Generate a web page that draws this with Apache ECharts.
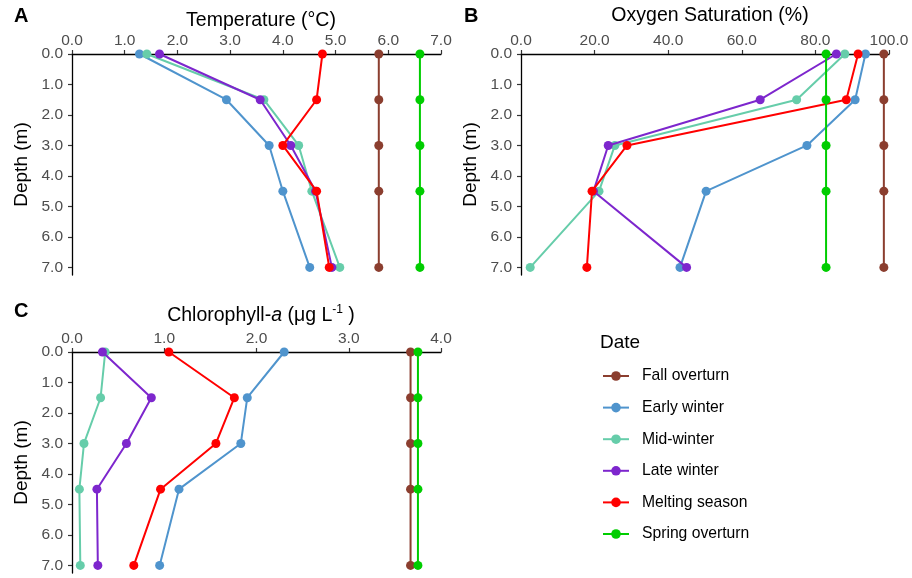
<!DOCTYPE html>
<html>
<head>
<meta charset="utf-8">
<script src="https://cdn.jsdelivr.net/npm/echarts@6/dist/echarts.min.js"></script>
<style>
  html, body { margin: 0; padding: 0; background: #fff; }
  #chart { width: 912px; height: 578px; }
</style>
</head>
<body>
<div id="chart"></div>
<script>
// Sampling depths (m) and sampling periods
const depths = [0, 1.5, 3, 4.5, 7];
const seasons = ['Fall overturn', 'Early winter', 'Mid-winter', 'Late winter', 'Melting season', 'Spring overturn'];
const seasonColors = ['#8B3E2F', '#4F94CD', '#66CDAA', '#7D26CD', '#FF0000', '#00CD00'];

// Temperature (°C) profiles, one array per period, values at each depth
const tempFall    = [5.82, 5.82, 5.82, 5.82, 5.82];
const tempEarly   = [1.28, 2.93, 3.74, 4.00, 4.51];
const tempMid     = [1.42, 3.64, 4.30, 4.55, 5.08];
const tempLate    = [1.66, 3.57, 4.15, 4.62, 4.93];
const tempMelt    = [4.75, 4.64, 4.00, 4.64, 4.88];
const tempSpring  = [6.60, 6.60, 6.60, 6.60, 6.60];

// Oxygen saturation (%) profiles
const oxyFall     = [98.6, 98.6, 98.6, 98.6, 98.6];
const oxyEarly    = [93.6, 90.8, 77.7, 50.3, 43.2];
const oxyMid      = [88.0, 74.9, 25.5, 21.2, 2.5];
const oxyLate     = [85.7, 65.0, 23.7, 19.7, 45.0];
const oxyMelt     = [91.6, 88.4, 28.8, 19.3, 17.9];
const oxySpring   = [82.9, 82.9, 82.9, 82.9, 82.9];

// Chlorophyll-a (µg/L) profiles
const chlFall     = [3.67, 3.67, 3.67, 3.67, 3.67];
const chlEarly    = [2.30, 1.90, 1.83, 1.16, 0.95];
const chlMid      = [0.36, 0.31, 0.13, 0.08, 0.09];
const chlLate     = [0.33, 0.86, 0.59, 0.27, 0.28];
const chlMelt     = [1.05, 1.76, 1.56, 0.96, 0.67];
const chlSpring   = [3.75, 3.75, 3.75, 3.75, 3.75];

// Axis tick values
const depthTicks = [0, 1, 2, 3, 4, 5, 6, 7];
const tempTicks  = [0, 1, 2, 3, 4, 5, 6, 7];
const oxyTicks   = [0, 20, 40, 60, 80, 100];
const chlTicks   = [0, 1, 2, 3, 4];

const panels = [
  [tempFall, tempEarly, tempMid, tempLate, tempMelt, tempSpring],
  [oxyFall, oxyEarly, oxyMid, oxyLate, oxyMelt, oxySpring],
  [chlFall, chlEarly, chlMid, chlLate, chlMelt, chlSpring]
];
const xTickSets = [tempTicks, oxyTicks, chlTicks];

const FONT = 'Liberation Sans, Arial, sans-serif';
const TICK_COLOR = '#4d4d4d';
const TICK_SIZE = 15.5;
const TITLE_SIZE = 19.5;

const grids = [
  { left: 72, top: 54, width: 369, height: 221 },
  { left: 521, top: 54, width: 368, height: 221 },
  { left: 72, top: 352, width: 369, height: 221 }
];

const xAxes = xTickSets.map((ticks, i) => ({
  type: 'value',
  gridIndex: i,
  position: 'top',
  min: ticks[0],
  max: ticks[ticks.length - 1],
  interval: ticks[1] - ticks[0],
  splitLine: { show: false },
  axisLine: { show: true, onZero: false, lineStyle: { color: '#000', width: 1.3 } },
  axisTick: { show: true, length: 4, lineStyle: { color: '#333', width: 1.2 } },
  axisLabel: {
    margin: 5, color: TICK_COLOR, fontSize: TICK_SIZE, fontFamily: FONT,
    formatter: v => v.toFixed(1)
  }
}));

const yAxes = [0, 1, 2].map(i => ({
  type: 'value',
  gridIndex: i,
  inverse: true,
  min: 0,
  max: 7.25,
  name: 'Depth (m)',
  nameLocation: 'middle',
  nameRotate: 90,
  nameGap: 41,
  nameTextStyle: { fontSize: 19, color: '#000', fontFamily: FONT },
  splitLine: { show: false },
  axisLine: { show: true, onZero: false, lineStyle: { color: '#000', width: 1.3 } },
  axisTick: { show: true, length: 4, customValues: depthTicks, lineStyle: { color: '#333', width: 1.2 } },
  axisLabel: {
    margin: 9, color: TICK_COLOR, fontSize: TICK_SIZE, fontFamily: FONT,
    customValues: depthTicks,
    formatter: v => v.toFixed(1)
  }
}));

const series = [];
panels.forEach((sets, p) => {
  sets.forEach((vals, s) => {
    series.push({
      name: seasons[s],
      type: 'line',
      xAxisIndex: p,
      yAxisIndex: p,
      data: vals.map((v, k) => [v, depths[k]]),
      color: seasonColors[s],
      symbol: 'circle',
      symbolSize: 9,
      showSymbol: true,
      lineStyle: { width: 2 },
      animation: false,
      z: 2 + s
    });
  });
});

const panelTag = { fontSize: 20, fontWeight: 'bold', color: '#000', fontFamily: FONT };
const titleText = { fontSize: TITLE_SIZE, fontWeight: 'normal', color: '#000', fontFamily: FONT };

const chart = echarts.init(document.getElementById('chart'), null, { renderer: 'canvas' });
chart.setOption({
  backgroundColor: '#fff',
  animation: false,
  title: [
    { text: 'A', left: 9, top: 1, textStyle: panelTag },
    { text: 'B', left: 459, top: 1, textStyle: panelTag },
    { text: 'C', left: 9, top: 296, textStyle: panelTag },
    { text: 'Temperature (°C)', left: 256, top: 6, textAlign: 'center', textStyle: titleText },
    { text: 'Oxygen Saturation (%)', left: 705, top: 1, textAlign: 'center', textStyle: titleText },
    { text: '{n|Chlorophyll-}{i|a}{n| (μg L}{s|-1}{n| )}', left: 256, top: 299, textAlign: 'center',
      textStyle: Object.assign({}, titleText, {
        rich: {
          n: { fontSize: TITLE_SIZE, color: '#000', fontFamily: FONT },
          i: { fontSize: TITLE_SIZE, color: '#000', fontStyle: 'italic', fontFamily: FONT },
          s: { fontSize: 12, color: '#000', fontFamily: FONT, verticalAlign: 'top', padding: [0, 0, 11, 0] }
        }
      }) },
    { text: 'Date', left: 595, top: 328, textStyle: { fontSize: 19, fontWeight: 'normal', color: '#000', fontFamily: FONT } }
  ],
  legend: {
    data: seasons,
    orient: 'vertical',
    left: 597,
    top: 363,
    itemWidth: 26,
    itemHeight: 12,
    itemGap: 15.6,
    textStyle: { fontSize: 15.7, color: '#000', fontFamily: FONT, padding: [0, 0, 0, 8] },
    selectedMode: false
  },
  grid: grids,
  xAxis: xAxes,
  yAxis: yAxes,
  series: series
});
</script>
</body>
</html>
